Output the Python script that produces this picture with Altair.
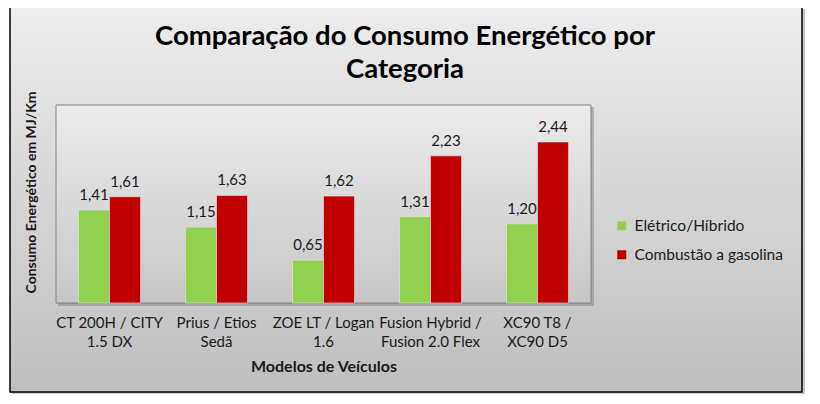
import altair as alt
import pandas as pd

titulo = ["Comparação do Consumo Energético por", "Categoria"]
categorias = ["CT 200H / CITY\n1.5 DX", "Prius / Etios\nSedã", "ZOE LT / Logan\n1.6",
              "Fusion Hybrid /\nFusion 2.0 Flex", "XC90 T8  /\nXC90 D5"]
series = ["Elétrico/Híbrido", "Combustão a gasolina"]
eletrico = [1.41, 1.15, 0.65, 1.31, 1.20]
combustao = [1.61, 1.63, 1.62, 2.23, 2.44]
cores = ["#92D050", "#C00000"]

rows = []
for c, e, g in zip(categorias, eletrico, combustao):
    rows.append({"modelo": c, "serie": series[0], "valor": e})
    rows.append({"modelo": c, "serie": series[1], "valor": g})
df = pd.DataFrame(rows)

W, H = 535, 198
FONT = "Lato"
TXT = "#1a1a1a"


def grad(c0, c1):
    return alt.LinearGradient(gradient="linear", x1=0, y1=0, x2=0, y2=1,
                              stops=[alt.GradientStop(offset=0, color=c0),
                                     alt.GradientStop(offset=1, color=c1)])


one = alt.Data(values=[{"k": 1}])

frame_shadow = alt.Chart(one).mark_rect(color="#8c8c8c", opacity=0.5).encode(
    x=alt.value(-44), x2=alt.value(749), y=alt.value(-96), y2=alt.value(290))
frame = alt.Chart(one).mark_rect(fill=grad("#ededed", "#bebebe"), stroke="#000000", strokeWidth=1.5).encode(
    x=alt.value(-46), x2=alt.value(746), y=alt.value(-98), y2=alt.value(287))
plot_shadow = alt.Chart(one).mark_rect(color="#7a7a7a", opacity=0.45).encode(
    x=alt.value(2), x2=alt.value(W + 3), y=alt.value(2), y2=alt.value(H + 3))
plot_bg = alt.Chart(one).mark_rect(fill=grad("#ececec", "#c6c6c6"), stroke="#808080", strokeWidth=1).encode(
    x=alt.value(0), x2=alt.value(W), y=alt.value(0), y2=alt.value(H))
title_mark = alt.Chart(one).mark_text(font=FONT, fontSize=27.5, fontWeight="bold", color="#000000",
                                      lineHeight=33, align="center", baseline="alphabetic").encode(
    x=alt.value(349), y=alt.value(-60), text=alt.value(titulo))

x_enc = alt.X("modelo:N", sort=categorias,
              scale=alt.Scale(paddingInner=0.42, paddingOuter=0.21),
              axis=alt.Axis(title="Modelos de Veículos", labelExpr="split(datum.label, '\\n')",
                            labelAngle=0, labelFont=FONT, labelFontSize=15, labelColor=TXT,
                            labelLineHeight=19, labelPadding=12, labelLimit=300,
                            ticks=False, domain=False, grid=False,
                            titleFont=FONT, titleFontSize=16, titleFontWeight="bold", titleColor=TXT,
                            titleY=63, titleBaseline="middle", zindex=1))
y_enc = alt.Y("valor:Q", scale=alt.Scale(domain=[0, 3]),
              axis=alt.Axis(title="Consumo Energético em MJ/Km", labels=False, ticks=False,
                            domain=False, grid=False, titleFont=FONT, titleFontSize=14,
                            titleFontWeight="bold", titleColor=TXT, titleX=-25, titleY=87,
                            titleBaseline="middle", zindex=1))
off = alt.XOffset("serie:N", sort=series)

base = alt.Chart(df)
bars = base.mark_bar(stroke="#e8e8e8", strokeWidth=0.6).encode(
    x=x_enc, y=y_enc, xOffset=off,
    color=alt.Color("serie:N", sort=series, scale=alt.Scale(domain=series, range=cores),
                    legend=alt.Legend(title=None, orient="none", legendX=558, legendY=113,
                                      symbolType="square", symbolSize=81, symbolStrokeWidth=0,
                                      labelFont=FONT, labelFontSize=15.5, labelColor=TXT,
                                      rowPadding=12, labelOffset=5, padding=0, zindex=1)))
labels = base.transform_calculate(
    rotulo="replace(format(datum.valor, '.2f'), '.', ',')"
).mark_text(dy=-15, baseline="middle", font=FONT, fontSize=15, color=TXT).encode(
    x=x_enc, y=y_enc, xOffset=off, text="rotulo:N")

chart = alt.layer(frame_shadow, frame, plot_shadow, plot_bg, title_mark, bars, labels).properties(
    width=W, height=H,
    padding={"left": 48, "top": 97, "right": 221, "bottom": 91},
    autosize=alt.AutoSizeParams(type="none"),
).configure_view(strokeWidth=0).configure(background="#ffffff")

chart.save("out.html", embed_options={"renderer": "svg", "actions": False})
